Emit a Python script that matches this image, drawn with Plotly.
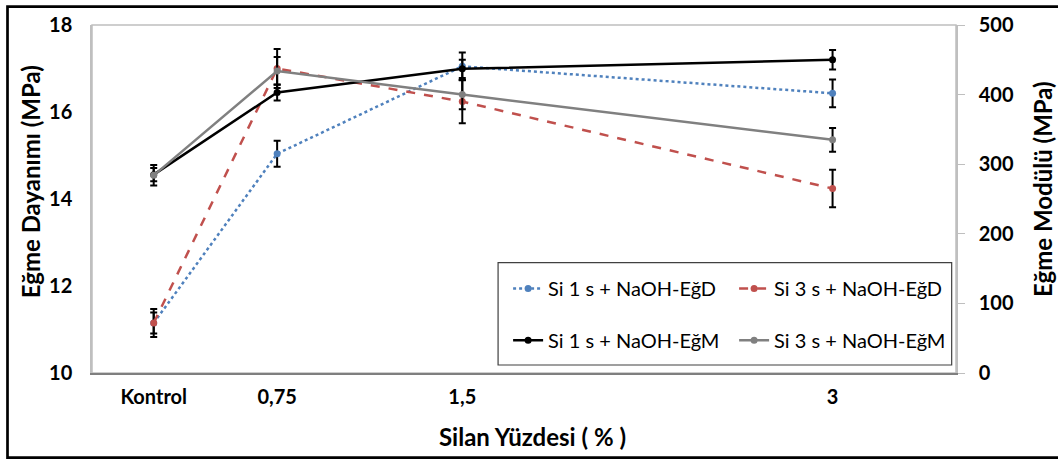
import plotly.graph_objects as go

# Silane content (x position on a numeric axis; control sample drawn at 0.25)
x_pos = [0.25, 0.75, 1.5, 3.0]
x_labels = ["Kontrol", "0,75", "1,5", "3"]

# Flexural strength (MPa) with error bars - left axis
si1_egd = [11.15, 15.04, 17.05, 16.43]
si1_egd_err = [0.32, 0.30, 0.32, 0.32]
si3_egd = [11.15, 17.00, 16.24, 14.24]
si3_egd_err = [0.24, 0.45, 0.50, 0.43]

# Flexural modulus (MPa) with error bars - right axis
si1_egm = [285, 403, 437, 450]
si1_egm_err = [9.5, 11.5, 13, 14]
si3_egm = [284, 434, 400, 335]
si3_egm_err = [14.7, 20, 21, 17]

names = ["Si 1 s + NaOH-EğD", "Si 3 s + NaOH-EğD",
         "Si 1 s + NaOH-EğM", "Si 3 s + NaOH-EğM"]

FONT = "Lato"
BLUE = "#4F81BD"
RED = "#C0504D"
GRAY = "#808080"


def err(arr):
    return dict(type="data", array=arr, color="black", thickness=2, width=3.5, visible=True)


fig = go.Figure()
fig.add_trace(go.Scatter(x=x_pos, y=si1_egd, name=names[0], mode="lines+markers",
                         line=dict(color=BLUE, width=2.5, dash="dot"),
                         marker=dict(size=7, color=BLUE), error_y=err(si1_egd_err),
                         legend="legend"))
fig.add_trace(go.Scatter(x=x_pos, y=si3_egd, name=names[1], mode="lines+markers",
                         line=dict(color=RED, width=2.5, dash="dash"),
                         marker=dict(size=7, color=RED), error_y=err(si3_egd_err),
                         legend="legend"))
fig.add_trace(go.Scatter(x=x_pos, y=si1_egm, name=names[2], mode="lines+markers",
                         line=dict(color="black", width=2.5),
                         marker=dict(size=7, color="black"), error_y=err(si1_egm_err),
                         yaxis="y2", legend="legend2"))
fig.add_trace(go.Scatter(x=x_pos, y=si3_egm, name=names[3], mode="lines+markers",
                         line=dict(color=GRAY, width=2.5),
                         marker=dict(size=7, color=GRAY), error_y=err(si3_egm_err),
                         yaxis="y2", legend="legend2"))

tickfont = dict(family=FONT, size=20, color="black", weight="bold")
titlefont = dict(family=FONT, size=24, color="black", weight="bold")
legfont = dict(family=FONT, size=20, color="black")

fig.update_layout(
    width=1058, height=461,
    margin=dict(l=92, r=102, t=23, b=88),
    paper_bgcolor="white", plot_bgcolor="white",
    xaxis=dict(range=[0, 3.5], tickvals=x_pos, ticktext=x_labels, showgrid=False,
               zeroline=False, showline=True, linecolor="#7F7F7F", linewidth=2,
               ticks="", tickfont=tickfont, ticklabelstandoff=5),
    yaxis=dict(range=[10, 18], dtick=2, showgrid=False, zeroline=False, showline=True,
               linecolor="#BFBFBF", linewidth=1.5, ticks="", tickfont=tickfont,
               ticklabelstandoff=14),
    yaxis2=dict(range=[0, 500], dtick=100, overlaying="y", side="right", showgrid=False,
                zeroline=False, showline=True, linecolor="#BFBFBF", linewidth=1.5,
                ticks="outside", ticklen=7, tickcolor="#BFBFBF", tickfont=tickfont,
                ticklabelstandoff=10),
    legend=dict(orientation="h", x=0.4816, xanchor="left", y=0.243, yanchor="middle",
                bgcolor="rgba(0,0,0,0)", font=legfont, entrywidth=181),
    legend2=dict(orientation="h", x=0.4816, xanchor="left", y=0.094, yanchor="middle",
                 bgcolor="rgba(0,0,0,0)", font=legfont, entrywidth=181),
    showlegend=True,
    shapes=[
        # light frame around the plotting area
        dict(type="rect", xref="paper", yref="paper", x0=0, x1=1, y0=0, y1=1,
             line=dict(color="#BFBFBF", width=1.5), layer="below"),
        # legend box
        dict(type="rect", xref="paper", yref="paper", x0=0.470, x1=0.995, y0=0.023, y1=0.317,
             line=dict(color="#404040", width=1.2), fillcolor="white", layer="below"),
        # outer chart border
        dict(type="rect", xref="paper", yref="paper", x0=-0.0978, x1=1.3, y0=-0.243, y1=1.053,
             line=dict(color="black", width=2.7)),
    ],
    annotations=[
        dict(text="Eğme Dayanımı (MPa)", xref="paper", yref="paper", x=-0.0718, y=0.551,
             textangle=-90, showarrow=False, font=titlefont, xanchor="center", yanchor="middle"),
        dict(text="Eğme Modülü (MPa)", xref="paper", yref="paper", x=1.1007, y=0.529,
             textangle=-90, showarrow=False, font=titlefont, xanchor="center", yanchor="middle"),
        dict(text="Silan Yüzdesi ( % )", xref="paper", yref="paper", x=0.510, y=-0.183,
             showarrow=False, font=titlefont, xanchor="center", yanchor="middle"),
    ],
)

fig.write_html("out.html")
